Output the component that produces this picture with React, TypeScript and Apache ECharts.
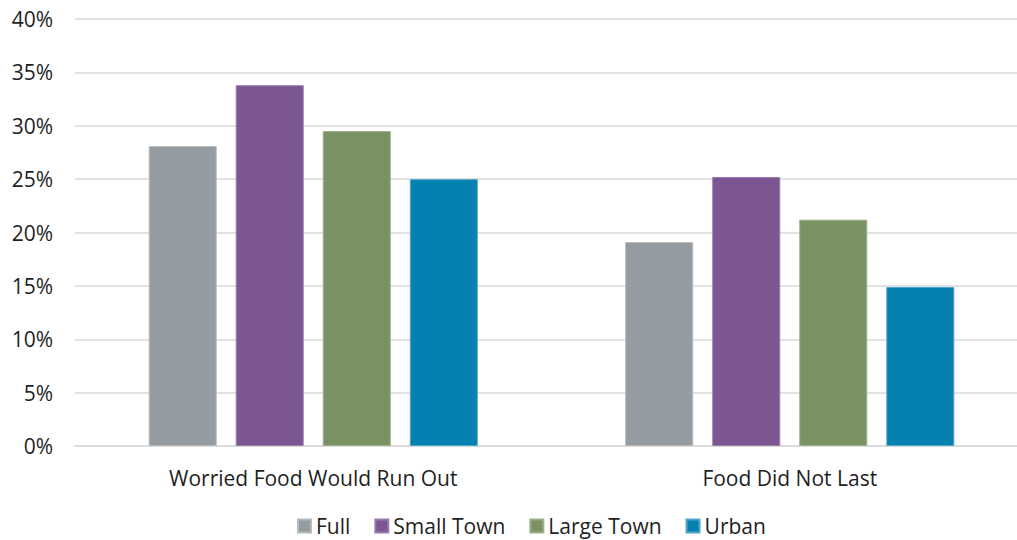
import React, { useEffect, useRef } from "react";
import * as echarts from "echarts";

const categories = ["Worried Food Would Run Out", "Food Did Not Last"];
const seriesNames = ["Full", "Small Town", "Large Town", "Urban"];
const fullValues = [28.1, 19.1];
const smallTownValues = [33.8, 25.2];
const largeTownValues = [29.5, 21.2];
const urbanValues = [25.0, 14.9];
const colors = ["#949ca1", "#7c5692", "#7a9263", "#0481af"];
const borderColors = ["#b4bbbf", "#9a7cac", "#9bb086", "#4fa6c8"];

const FONT = "'Open Sans', 'Noto Sans', sans-serif";
const TEXT = "#1f1f1f";

export default function App() {
  const ref = useRef<HTMLDivElement>(null);

  useEffect(() => {
    if (!ref.current) return;
    const chart = echarts.init(ref.current, undefined, { renderer: "svg" });
    const values = [fullValues, smallTownValues, largeTownValues, urbanValues];
    chart.setOption({
      animation: false,
      backgroundColor: "#ffffff",
      grid: { left: 75, top: 19, bottom: 94, width: 953, containLabel: false },
      legend: {
        left: 297,
        bottom: 2,
        padding: 0,
        itemWidth: 13,
        itemHeight: 13,
        itemGap: 24,
        icon: "rect",
        textStyle: { fontFamily: FONT, fontSize: 21, color: TEXT, lineHeight: 24 },
        data: seriesNames,
      },
      xAxis: {
        type: "category",
        data: categories,
        axisLine: { show: true, lineStyle: { color: "#d9d9d9", width: 1.5 } },
        axisTick: { show: false },
        axisLabel: { fontFamily: FONT, fontSize: 21, color: TEXT, margin: 21 },
      },
      yAxis: {
        type: "value",
        min: 0,
        max: 40,
        interval: 5,
        axisLine: { show: false },
        axisTick: { show: false },
        splitLine: { lineStyle: { color: "#d9d9d9", width: 1.5 } },
        axisLabel: {
          fontFamily: FONT,
          fontSize: 21,
          color: TEXT,
          margin: 22,
          formatter: (v: number) => `${v}%`,
        },
      },
      series: seriesNames.map((name, i) => ({
        name,
        type: "bar",
        data: values[i],
        barWidth: 68,
        barGap: "28%",
        itemStyle: { color: colors[i], borderColor: borderColors[i], borderWidth: 1 },
      })),
    });
    return () => chart.dispose();
  }, []);

  return (
    <div
      style={{
        position: "fixed",
        left: 0,
        top: 0,
        width: 1017,
        height: 540,
        overflow: "hidden",
        background: "#ffffff",
      }}
    >
      <div ref={ref} style={{ width: 1030, height: 540 }} />
    </div>
  );
}
